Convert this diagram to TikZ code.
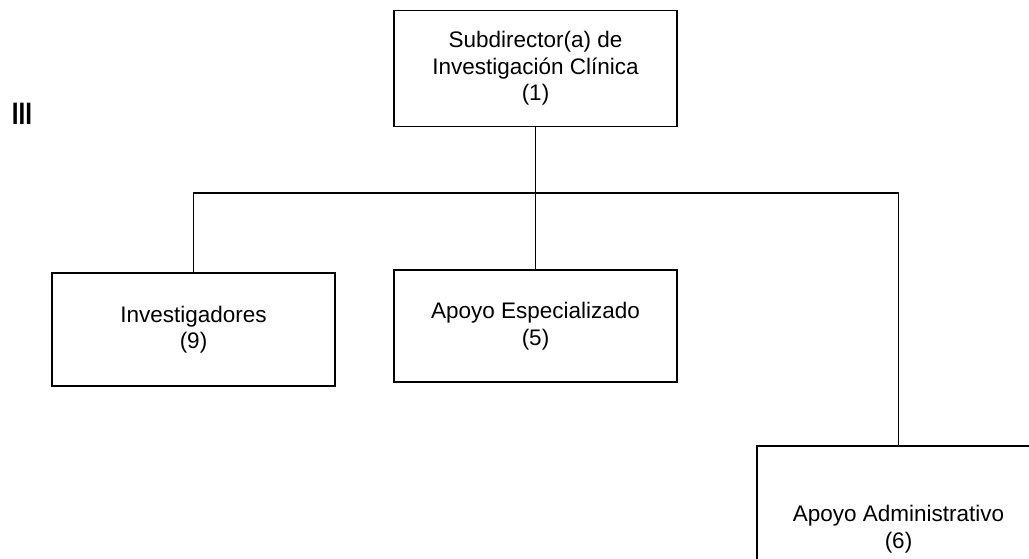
\documentclass[tikz,border=0pt]{standalone}
\usepackage{fontspec}
\setmainfont{Liberation Sans}
\begin{document}
\begin{tikzpicture}[x=1pt,y=-1pt,
  orgbox/.style={draw=black,line width=1.8pt,minimum width=283pt,align=center,inner sep=0pt,
     font=\fontsize{22.5}{26.5}\selectfont},
  link/.style={draw=black,line width=1.8pt}]
\useasboundingbox (0,0) rectangle (1029,559);
\begin{scope}
\clip (0,0) rectangle (1029,559);
\node[orgbox,minimum height=116pt] (top) at (535.5,68.5) {Subdirector(a) de\\Investigación Clínica\\(1)};
\node[orgbox,minimum height=113pt] (inv) at (193.5,329.5) {Investigadores\\(9)};
\node[orgbox,minimum height=112pt] (esp) at (535.5,326) {Apoyo Especializado\\(5)};
\node[orgbox,minimum height=166pt] (adm) at (898.5,529) {Apoyo Administrativo\\(6)};
\coordinate (j) at (535.5,193);
\draw[link] (top.south) -- (esp.north);
\draw[link] (inv.north) |- (j) -| (adm.north);
\end{scope}
\node[font=\bfseries\fontsize{31}{34}\selectfont,inner sep=0pt,xscale=0.78,transform shape] (lvl) at (22,113.5) {III};
\end{tikzpicture}
\end{document}
